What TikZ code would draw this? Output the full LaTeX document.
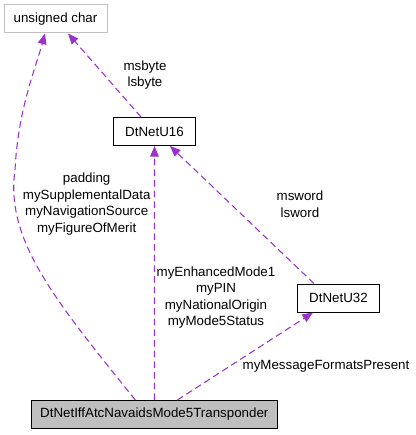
\documentclass[tikz,border=0pt]{standalone}
\usepackage{fontspec}
\setmainfont{Liberation Sans}
\usepackage{tikz}
\usetikzlibrary{arrows.meta}
\definecolor{orchid}{HTML}{9A32CD}
\definecolor{grey75}{HTML}{BFBFBF}

\begin{document}
\begin{tikzpicture}[x=0.75pt,y=-0.75pt,
   font=\fontsize{10}{12.4}\selectfont,
   klass/.style={draw=black,line width=0.75pt,fill=white,minimum width=#1,
                 minimum height=21pt,inner sep=0pt},
   klass/.default=61pt,
   member/.style={draw=orchid,line width=0.8pt,dash pattern=on 5pt off 3pt,
                  -{Triangle[length=8pt,width=6.5pt]}},
   lab/.style={align=center,inner sep=0pt}]
   \useasboundingbox (0,0) rectangle (415,435);

   \node[klass=77.25pt,draw=grey75] (u_char) at (55.5,19)    {unsigned char};
   \node[klass] (u_16)   at (154.5,131.5) {DtNetU16};
   \node[klass] (u_32)   at (338.5,298)   {DtNetU32};
   \node[klass=184.5pt,fill=grey75] (mode_5) at (154.3,414.5) {DtNetIffAtcNavaidsMode5Transponder};

   \node[lab] (l_byte)  at (145,75)    {msbyte\\lsbyte};
   \node[lab] (l_pad)   at (86.7,204)  {padding\\mySupplementalData\\myNavigationSource\\myFigureOfMerit};
   \node[lab] (l_enh)   at (216,297.5) {myEnhancedMode1\\myPIN\\myNationalOrigin\\myMode5Status};
   \node[lab] (l_word)  at (300,204)   {msword\\lsword};
   \node[lab] (l_msg)   at (326,366)   {myMessageFormatsPresent};

   % usage edges
   \draw[member] ([xshift=-14.25pt]mode_5.north)
      .. controls (55,300) and (5,240) .. (15,170)
      .. controls (18,110) and (35,70) .. ([xshift=-7.9pt]u_char.south);
   \draw[member] ([xshift=-10.1pt]u_16.north) -- ([xshift=9.4pt]u_char.south);
   \draw[member] (mode_5.north) -- (u_16.south);
   \draw[member] ([xshift=-18.4pt]u_32.north) -- ([xshift=11.6pt]u_16.south);
   \draw[member] ([xshift=17.3pt]mode_5.north) -- ([xshift=-19.1pt]u_32.south);
\end{tikzpicture}
\end{document}
